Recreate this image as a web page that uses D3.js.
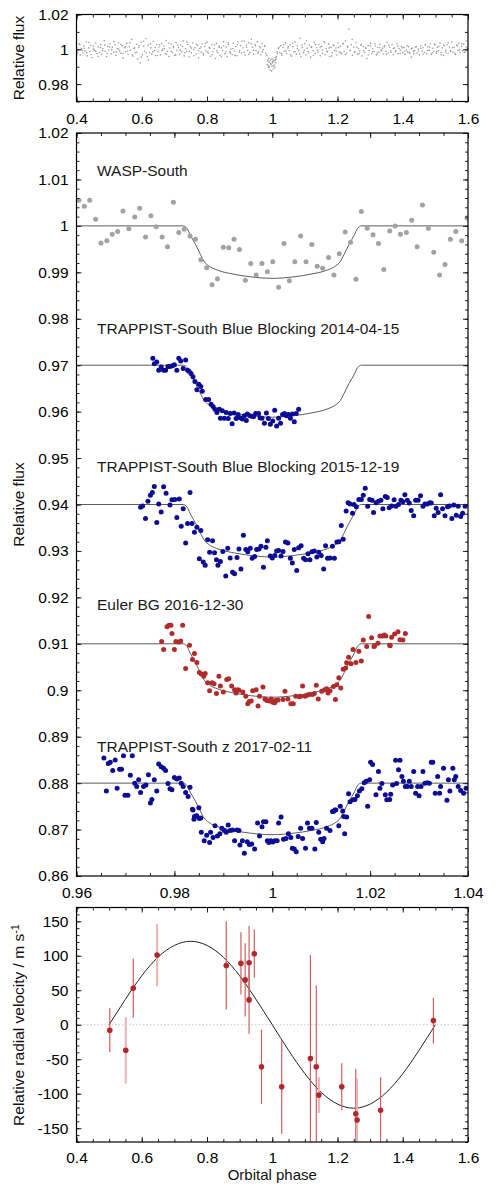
<!DOCTYPE html>
<html>
<head>
<meta charset="utf-8">
<script src="https://cdn.jsdelivr.net/npm/d3@7"></script>
<style>
  body { margin: 0; background: #fff; }
  svg { display: block; font-family: "Liberation Sans", Arial, Helvetica, sans-serif; }
</style>
</head>
<body>
<svg id="chart" width="496" height="1190"></svg>
<script>
// ---- data ----

// full WASP light curve folded on the orbital phase (top panel)
const survey = [
  [0.401,1.0012],[0.404,0.9985],[0.408,1.0031],[0.411,0.9968],[0.415,1.0004],[0.419,0.9979],[0.422,1.0019],[0.426,0.9991],[0.430,1.0043],[0.433,0.9962],
  [0.437,1.0008],[0.441,0.9987],[0.444,1.0023],[0.448,0.9953],[0.452,1.0001],[0.455,0.9994],[0.459,1.0036],[0.463,0.9976],[0.466,1.0014],[0.470,0.9982],
  [0.474,1.0027],[0.477,0.9971],[0.481,1.0005],[0.485,1.0049],[0.488,0.9989],[0.492,0.9958],[0.496,1.0017],[0.499,0.9996],[0.503,1.0032],[0.507,0.9974],
  [0.510,1.0011],[0.514,0.9983],[0.518,1.0026],[0.521,0.9966],[0.525,1.0003],[0.529,1.0038],[0.532,0.9992],[0.536,0.9978],[0.540,1.0021],[0.543,0.9949],
  [0.547,1.0009],[0.551,0.9986],[0.554,1.0034],[0.558,0.9970],[0.562,1.0015],[0.565,0.9995],[0.569,1.0057],[0.573,0.9961],[0.576,1.0006],[0.580,0.9980],
  [0.584,1.0029],[0.587,0.9944],[0.591,1.0012],[0.595,0.9922],[0.598,1.0041],[0.602,0.9968],[0.606,1.0018],[0.609,0.9990],[0.613,1.0062],[0.617,0.9957],
  [0.620,1.0024],[0.624,0.9981],[0.628,1.0008],[0.631,0.9972],[0.635,1.0045],[0.639,0.9993],[0.642,0.9964],[0.646,1.0027],[0.650,0.9986],[0.653,1.0013],
  [0.657,0.9969],[0.661,1.0033],[0.664,0.9998],[0.668,1.0019],[0.672,0.9976],[0.675,1.0051],[0.679,0.9988],[0.683,0.9959],[0.686,1.0007],[0.690,1.0030],
  [0.694,0.9982],[0.697,1.0016],[0.701,0.9965],[0.705,1.0039],[0.708,0.9994],[0.712,1.0010],[0.716,0.9971],[0.719,1.0025],[0.723,0.9985],[0.727,1.0047],
  [0.730,0.9962],[0.734,1.0003],[0.738,0.9989],[0.741,1.0028],[0.745,0.9956],[0.749,1.0014],[0.752,0.9979],[0.756,1.0036],[0.760,0.9997],[0.763,1.0009],
  [0.767,0.9973],[0.771,1.0022],[0.774,0.9951],[0.778,1.0005],[0.782,0.9984],[0.785,1.0031],[0.789,0.9968],[0.793,1.0017],[0.796,0.9992],[0.800,1.0040],
  [0.804,0.9977],[0.807,1.0011],[0.811,0.9960],[0.815,1.0026],[0.818,0.9987],[0.822,1.0004],[0.826,0.9947],[0.829,1.0034],[0.833,0.9981],[0.837,1.0018],
  [0.840,0.9966],[0.844,1.0008],[0.848,0.9993],[0.851,1.0044],[0.855,0.9975],[0.859,1.0013],[0.862,0.9958],[0.866,1.0027],[0.870,0.9985],[0.873,1.0002],
  [0.877,0.9970],[0.881,1.0035],[0.884,0.9990],[0.888,1.0016],[0.892,0.9963],[0.895,1.0042],[0.899,0.9983],[0.903,1.0021],[0.906,0.9978],[0.910,1.0009],
  [0.914,1.0048],[0.917,0.9967],[0.921,1.0024],[0.925,0.9994],[0.928,1.0037],[0.932,0.9980],[0.936,1.0058],[0.939,1.0012],[0.943,0.9972],[0.947,1.0029],
  [0.950,0.9991],[0.954,1.0044],[0.958,0.9985],[0.961,1.0016],[0.965,0.9969],[0.969,1.0033],[0.972,0.9998],[0.976,1.0021],[0.980,0.9977],[0.983,0.9965],
  [0.985,0.9912],[0.987,0.9938],[0.989,0.9895],[0.991,0.9926],[0.993,0.9881],[0.995,0.9918],[0.997,0.9944],[0.999,0.9903],[1.001,0.9929],[1.003,0.9887],
  [1.005,0.9935],[1.007,0.9910],[1.009,0.9952],[1.011,0.9921],[1.013,0.9958],[1.016,0.9974],[1.019,1.0004],[1.023,0.9982],[1.026,1.0021],[1.030,0.9966],
  [1.033,1.0012],[1.037,0.9989],[1.041,1.0037],[1.044,0.9976],[1.048,1.0008],[1.052,0.9993],[1.055,1.0026],[1.059,0.9961],[1.063,1.0015],[1.066,0.9984],
  [1.070,1.0041],[1.074,0.9972],[1.077,1.0019],[1.081,0.9995],[1.085,1.0063],[1.088,0.9958],[1.092,1.0010],[1.096,0.9981],[1.099,1.0033],[1.103,0.9969],
  [1.107,1.0006],[1.110,0.9987],[1.114,1.0024],[1.118,0.9955],[1.121,1.0014],[1.125,0.9992],[1.129,1.0038],[1.132,0.9975],[1.136,1.0009],[1.140,0.9983],
  [1.143,1.0028],[1.147,0.9963],[1.151,1.0017],[1.154,0.9996],[1.158,1.0045],[1.162,0.9970],[1.165,1.0003],[1.169,0.9986],[1.173,1.0031],[1.176,0.9959],
  [1.180,1.0012],[1.184,0.9980],[1.187,1.0025],[1.191,0.9993],[1.195,1.0007],[1.198,0.9967],[1.202,1.0036],[1.206,0.9984],[1.209,1.0018],[1.213,0.9974],
  [1.217,1.0030],[1.220,0.9989],[1.224,1.0047],[1.228,0.9977],[1.231,1.0011],[1.235,1.0115],[1.239,0.9994],[1.242,1.0027],[1.246,0.9966],[1.250,1.0013],
  [1.253,0.9985],[1.257,1.0039],[1.261,0.9971],[1.264,1.0005],[1.268,0.9990],[1.272,1.0024],[1.275,0.9962],[1.279,1.0016],[1.283,0.9982],[1.286,1.0008],
  [1.290,0.9947],[1.294,1.0021],[1.297,0.9993],[1.301,1.0034],[1.305,0.9976],[1.308,1.0003],[1.312,0.9987],[1.316,1.0019],[1.319,0.9968],[1.323,1.0010],
  [1.327,0.9984],[1.330,1.0029],[1.334,0.9995],[1.338,1.0006],[1.341,0.9973],[1.345,1.0022],[1.349,0.9989],[1.352,1.0041],[1.356,0.9979],[1.360,1.0013],
  [1.363,0.9991],[1.367,1.0026],[1.371,0.9969],[1.374,1.0008],[1.378,0.9986],[1.382,1.0032],[1.385,0.9975],[1.389,1.0004],[1.393,0.9993],[1.396,1.0017],
  [1.400,0.9981],[1.404,1.0011],[1.407,0.9972],[1.411,0.9996],[1.415,0.9985],[1.418,1.0014],[1.422,0.9977],[1.426,0.9955],[1.429,1.0007],[1.433,0.9988],
  [1.437,0.9993],[1.440,1.0012],[1.444,0.9979],[1.448,1.0002],[1.451,0.9968],[1.455,1.0020],[1.459,0.9990],[1.462,1.0009],[1.466,0.9983],[1.470,1.0027],
  [1.473,0.9975],[1.477,1.0015],[1.481,0.9994],[1.484,1.0032],[1.488,0.9970],[1.492,1.0006],[1.495,0.9987],[1.499,1.0023],[1.503,0.9978],[1.506,1.0011],
  [1.510,0.9992],[1.514,1.0036],[1.517,0.9981],[1.521,1.0008],[1.525,0.9965],[1.528,1.0019],[1.532,0.9995],[1.536,1.0027],[1.539,0.9976],[1.543,1.0013],
  [1.547,0.9988],[1.550,1.0042],[1.554,0.9983],[1.558,1.0009],[1.561,0.9970],[1.565,1.0025],[1.569,0.9994],[1.572,1.0034],[1.576,0.9980],[1.580,1.0016],
  [1.583,0.9991],[1.587,1.0029],[1.591,0.9985],[1.594,1.0048],[1.598,1.0003],
  [0.403,0.9974],[0.410,1.0027],[0.417,0.9993],[0.424,1.0006],[0.431,0.9981],[0.438,1.0039],[0.445,0.9970],[0.452,1.0019],[0.459,0.9988],[0.466,0.9959],
  [0.473,1.0010],[0.480,0.9992],[0.487,1.0024],[0.494,0.9977],[0.501,1.0013],[0.508,0.9998],[0.515,1.0044],[0.522,0.9985],[0.529,1.0002],[0.536,1.0028],
  [0.543,0.9976],[0.550,1.0015],[0.557,0.9990],[0.564,1.0037],[0.571,0.9969],[0.578,1.0008],[0.585,0.9983],[0.592,1.0022],[0.599,0.9955],[0.606,1.0046],
  [0.613,0.9979],[0.620,0.9938],[0.627,1.0031],[0.634,0.9986],[0.641,1.0012],[0.648,0.9964],[0.655,1.0026],[0.662,0.9991],[0.669,1.0004],[0.676,0.9973],
  [0.683,1.0035],[0.690,0.9989],[0.697,1.0009],[0.704,0.9968],[0.711,1.0023],[0.718,0.9995],[0.725,1.0016],[0.732,0.9980],[0.739,1.0041],[0.746,0.9987],
  [0.753,1.0007],[0.760,0.9963],[0.767,1.0029],[0.774,0.9993],[0.781,1.0014],[0.788,0.9976],[0.795,1.0033],[0.802,0.9984],[0.809,1.0006],[0.816,0.9969],
  [0.823,1.0025],[0.830,0.9991],[0.837,1.0010],[0.844,0.9957],[0.851,1.0019],[0.858,0.9986],[0.865,1.0038],[0.872,0.9978],[0.879,1.0003],[0.886,0.9965],
  [0.893,1.0027],[0.900,0.9992],[0.907,1.0046],[0.914,0.9983],[0.921,1.0012],[0.928,0.9971],[0.935,1.0031],[0.942,0.9994],[0.949,1.0020],[0.956,0.9977],
  [0.963,1.0008],[0.970,0.9985],[0.977,1.0018],[0.986,0.9931],[0.988,0.9906],[0.990,0.9948],[0.992,0.9899],[0.994,0.9935],[0.996,0.9913],[0.998,0.9876],
  [1.000,0.9921],[1.002,0.9941],[1.004,0.9904],[1.006,0.9927],[1.008,0.9896],[1.010,0.9939],[1.012,0.9944],[1.015,0.9985],[1.021,1.0011],[1.028,0.9975],
  [1.035,1.0028],[1.042,0.9990],[1.049,1.0016],[1.056,0.9968],[1.063,1.0035],[1.070,0.9986],[1.077,1.0005],[1.084,0.9973],[1.091,1.0024],[1.098,0.9994],
  [1.105,1.0049],[1.112,0.9979],[1.119,1.0011],[1.126,0.9966],[1.133,1.0027],[1.140,0.9995],[1.147,1.0013],[1.154,0.9977],[1.161,1.0036],[1.168,0.9988],
  [1.175,1.0008],[1.182,0.9962],[1.189,1.0021],[1.196,0.9990],[1.203,1.0010],[1.210,0.9981],[1.217,1.0033],[1.224,0.9970],[1.231,1.0018],[1.238,0.9993],
  [1.245,1.0056],[1.252,0.9984],[1.259,1.0012],[1.266,0.9975],[1.273,1.0029],[1.280,0.9991],[1.287,1.0006],[1.294,0.9967],[1.301,1.0019],[1.308,0.9986],
  [1.315,1.0032],[1.322,0.9978],[1.329,1.0009],[1.336,0.9992],[1.343,1.0014],[1.350,0.9972],[1.357,1.0025],[1.364,0.9983],[1.371,1.0005],[1.378,0.9994],
  [1.385,1.0018],[1.392,0.9976],[1.399,1.0008],[1.406,0.9989],[1.413,1.0021],[1.420,0.9982],[1.427,1.0003],[1.434,0.9975],[1.441,1.0016],[1.448,0.9990],
  [1.455,1.0006],[1.462,0.9971],[1.469,1.0024],[1.476,0.9993],[1.483,1.0012],[1.490,0.9979],[1.497,1.0030],[1.504,0.9988],[1.511,1.0017],[1.518,0.9969],
  [1.525,1.0025],[1.532,0.9984],[1.539,1.0039],[1.546,0.9992],[1.553,1.0010],[1.560,0.9977],[1.567,1.0021],[1.574,0.9995],[1.581,1.0032],[1.588,0.9981],[1.595,1.0013]
];

// binned WASP-South
const wasp = [
  [0.9605,1.0055],[0.9616,1.0042],[0.9627,1.0055],[0.9639,1.0014],[0.9650,0.9963],[0.9662,0.9968],[0.9673,0.9982],[0.9684,0.9988],[0.9695,1.0032],[0.9707,0.9994],
  [0.9719,1.0019],[0.9729,1.0038],[0.9741,0.9976],[0.9752,1.0022],[0.9763,0.9998],[0.9775,0.9976],[0.9786,0.9955],[0.9798,1.0051],[0.9809,0.9986],[0.9820,0.9993],
  [0.9832,0.9978],[0.9843,0.9971],[0.9854,0.9927],[0.9866,0.9910],[0.9877,0.9873],[0.9888,0.9886],[0.9900,0.9954],[0.9911,0.9953],[0.9922,0.9971],[0.9933,0.9949],
  [0.9945,0.9883],[0.9956,0.9919],[0.9967,0.9894],[0.9979,0.9919],[0.9990,0.9901],[1.0001,0.9923],[1.0013,0.9868],[1.0024,0.9962],[1.0035,0.9882],[1.0046,0.9923],
  [1.0058,0.9978],[1.0069,0.9923],[1.0081,0.9960],[1.0092,0.9913],[1.0103,0.9909],[1.0115,0.9932],[1.0126,0.9894],[1.0137,0.9940],[1.0149,0.9987],[1.0160,0.9965],
  [1.0171,0.9885],[1.0182,1.0031],[1.0194,0.9995],[1.0206,0.9981],[1.0217,0.9962],[1.0228,0.9906],[1.0240,0.9989],[1.0251,1.0000],[1.0262,0.9982],[1.0274,0.9986],
  [1.0285,1.0012],[1.0296,0.9955],[1.0307,1.0045],[1.0319,0.9995],[1.0330,0.9943],[1.0342,0.9894],[1.0353,0.9917],[1.0364,0.9971],[1.0375,0.9988],[1.0387,0.9968],
  [1.0398,1.0017]
];

// TRAPPIST-South Blue Blocking 2014-04-15 (offset -0.03)
const blue2014 = [
  [0.9756,0.9715],[0.9759,0.9703],[0.9764,0.9707],[0.9768,0.9689],[0.9773,0.9696],[0.9778,0.9689],[0.9782,0.9689],[0.9787,0.9697],[0.9791,0.9697],[0.9796,0.9699],
  [0.9800,0.9701],[0.9805,0.9689],[0.9809,0.9715],[0.9813,0.9709],[0.9818,0.9693],[0.9823,0.9711],[0.9827,0.9689],[0.9830,0.9687],[0.9834,0.9682],[0.9838,0.9675],
  [0.9842,0.9665],[0.9846,0.9647],[0.9850,0.9659],[0.9854,0.9654],[0.9857,0.9644],[0.9864,0.9626],[0.9870,0.9626],[0.9875,0.9616],[0.9879,0.9611],[0.9883,0.9605],
  [0.9887,0.9598],[0.9892,0.9605],[0.9894,0.9586],[0.9898,0.9602],[0.9902,0.9586],[0.9906,0.9598],[0.9910,0.9585],[0.9914,0.9596],[0.9918,0.9574],[0.9922,0.9597],
  [0.9926,0.9585],[0.9930,0.9594],[0.9934,0.9587],[0.9939,0.9584],[0.9943,0.9591],[0.9947,0.9581],[0.9949,0.9595],[0.9954,0.9591],[0.9958,0.9590],[0.9962,0.9589],
  [0.9966,0.9596],[0.9972,0.9596],[0.9975,0.9587],[0.9979,0.9586],[0.9984,0.9575],[0.9988,0.9597],[0.9992,0.9585],[0.9996,0.9573],[1.0001,0.9580],[1.0005,0.9603],
  [1.0009,0.9569],[1.0013,0.9586],[1.0017,0.9575],[1.0021,0.9594],[1.0025,0.9596],[1.0029,0.9591],[1.0033,0.9594],[1.0037,0.9586],[1.0041,0.9595],[1.0045,0.9578],
  [1.0049,0.9596],[1.0054,0.9605]
];

// TRAPPIST-South Blue Blocking 2015-12-19 (offset -0.06)
const blue2015 = [
  [0.9731,0.9394],[0.9735,0.9397],[0.9741,0.9370],[0.9746,0.9407],[0.9751,0.9420],[0.9755,0.9426],[0.9759,0.9439],[0.9764,0.9361],[0.9768,0.9401],[0.9773,0.9384],
  [0.9778,0.9438],[0.9783,0.9424],[0.9791,0.9399],[0.9795,0.9410],[0.9801,0.9411],[0.9805,0.9372],[0.9810,0.9412],[0.9814,0.9353],[0.9818,0.9391],[0.9823,0.9317],
  [0.9827,0.9359],[0.9832,0.9426],[0.9836,0.9359],[0.9841,0.9340],[0.9846,0.9351],[0.9851,0.9283],[0.9854,0.9344],[0.9859,0.9276],[0.9863,0.9269],[0.9868,0.9324],
  [0.9872,0.9297],[0.9878,0.9322],[0.9882,0.9296],[0.9886,0.9281],[0.9889,0.9269],[0.9894,0.9277],[0.9899,0.9299],[0.9905,0.9246],[0.9909,0.9306],[0.9914,0.9285],
  [0.9919,0.9254],[0.9923,0.9251],[0.9928,0.9286],[0.9932,0.9304],[0.9936,0.9261],[0.9941,0.9334],[0.9946,0.9303],[0.9950,0.9298],[0.9955,0.9306],[0.9959,0.9284],
  [0.9964,0.9288],[0.9968,0.9303],[0.9973,0.9304],[0.9977,0.9310],[0.9982,0.9265],[0.9987,0.9308],[0.9990,0.9322],[0.9996,0.9289],[1.0000,0.9285],[1.0005,0.9290],
  [1.0009,0.9300],[1.0013,0.9301],[1.0018,0.9289],[1.0022,0.9299],[1.0027,0.9319],[1.0032,0.9317],[1.0037,0.9284],[1.0041,0.9274],[1.0045,0.9303],[1.0050,0.9258],
  [1.0054,0.9307],[1.0059,0.9311],[1.0064,0.9284],[1.0068,0.9281],[1.0073,0.9294],[1.0077,0.9281],[1.0081,0.9298],[1.0086,0.9300],[1.0091,0.9287],[1.0095,0.9297],
  [1.0100,0.9290],[1.0105,0.9261],[1.0109,0.9311],[1.0113,0.9284],[1.0118,0.9285],[1.0123,0.9310],[1.0127,0.9284],[1.0132,0.9319],[1.0136,0.9320],[1.0141,0.9355],
  [1.0145,0.9325],[1.0151,0.9386],[1.0155,0.9404],[1.0159,0.9401],[1.0164,0.9381],[1.0167,0.9400],[1.0172,0.9395],[1.0177,0.9411],[1.0182,0.9411],[1.0186,0.9420],
  [1.0190,0.9435],[1.0195,0.9396],[1.0199,0.9411],[1.0204,0.9409],[1.0207,0.9383],[1.0212,0.9404],[1.0217,0.9407],[1.0222,0.9409],[1.0226,0.9391],[1.0231,0.9417],
  [1.0235,0.9415],[1.0239,0.9393],[1.0244,0.9397],[1.0249,0.9410],[1.0253,0.9396],[1.0258,0.9400],[1.0263,0.9409],[1.0267,0.9406],[1.0271,0.9421],[1.0276,0.9409],
  [1.0280,0.9403],[1.0284,0.9387],[1.0289,0.9376],[1.0293,0.9409],[1.0298,0.9409],[1.0303,0.9419],[1.0308,0.9396],[1.0312,0.9401],[1.0317,0.9401],[1.0322,0.9404],
  [1.0325,0.9403],[1.0331,0.9376],[1.0335,0.9392],[1.0339,0.9383],[1.0344,0.9421],[1.0348,0.9391],[1.0353,0.9376],[1.0358,0.9395],[1.0362,0.9397],[1.0367,0.9370],
  [1.0371,0.9399],[1.0376,0.9377],[1.0380,0.9396],[1.0385,0.9374],[1.0389,0.9381],[1.0394,0.9396]
];

// Euler BG 2016-12-30 (offset -0.09)
const euler2016 = [
  [0.9774,0.9105],[0.9778,0.9088],[0.9785,0.9137],[0.9789,0.9140],[0.9793,0.9140],[0.9795,0.9122],[0.9800,0.9088],[0.9803,0.9105],[0.9809,0.9104],[0.9813,0.9106],
  [0.9817,0.9140],[0.9823,0.9047],[0.9831,0.9097],[0.9837,0.9066],[0.9841,0.9079],[0.9846,0.9060],[0.9851,0.9038],[0.9855,0.9035],[0.9860,0.9030],[0.9863,0.9036],
  [0.9868,0.9016],[0.9872,0.8999],[0.9877,0.9016],[0.9881,0.9014],[0.9886,0.8993],[0.9891,0.9030],[0.9894,0.9009],[0.9900,0.8996],[0.9907,0.9023],[0.9911,0.9025],
  [0.9917,0.9009],[0.9923,0.9001],[0.9926,0.8994],[0.9929,0.9001],[0.9932,0.9000],[0.9940,0.8996],[0.9946,0.8987],[0.9950,0.8971],[0.9953,0.8976],[0.9957,0.8977],
  [0.9960,0.8999],[0.9967,0.9001],[0.9971,0.8966],[0.9974,0.8987],[0.9981,0.9007],[0.9985,0.8981],[0.9989,0.8978],[0.9994,0.8977],[0.9998,0.8981],[1.0001,0.8974],
  [1.0005,0.8973],[1.0007,0.8978],[1.0012,0.8979],[1.0022,0.8980],[1.0026,0.8998],[1.0032,0.8981],[1.0038,0.8971],[1.0043,0.8971],[1.0048,0.8987],[1.0055,0.8986],
  [1.0058,0.8987],[1.0062,0.9009],[1.0067,0.8987],[1.0071,0.8989],[1.0075,0.8991],[1.0082,0.8991],[1.0086,0.8993],[1.0090,0.9011],[1.0094,0.8981],[1.0101,0.8998],
  [1.0107,0.9001],[1.0111,0.9003],[1.0114,0.8994],[1.0118,0.8999],[1.0125,0.9008],[1.0129,0.8980],[1.0132,0.9012],[1.0136,0.9027],[1.0140,0.9005],[1.0145,0.9045],
  [1.0150,0.9048],[1.0152,0.9059],[1.0156,0.9071],[1.0161,0.9057],[1.0165,0.9088],[1.0171,0.9060],[1.0177,0.9084],[1.0182,0.9063],[1.0186,0.9108],[1.0193,0.9094],
  [1.0197,0.9159],[1.0203,0.9113],[1.0208,0.9094],[1.0209,0.9096],[1.0216,0.9101],[1.0220,0.9117],[1.0225,0.9117],[1.0229,0.9119],[1.0232,0.9117],[1.0240,0.9097],
  [1.0241,0.9096],[1.0244,0.9114],[1.0250,0.9121],[1.0257,0.9126],[1.0261,0.9109],[1.0267,0.9108],[1.0272,0.9122]
];

// TRAPPIST-South z 2017-02-11 (offset -0.12)
const z2017 = [
  [0.9656,0.8854],[0.9661,0.8783],[0.9665,0.8842],[0.9669,0.8845],[0.9674,0.8827],[0.9679,0.8850],[0.9683,0.8789],[0.9688,0.8830],[0.9692,0.8830],[0.9696,0.8859],
  [0.9699,0.8774],[0.9705,0.8774],[0.9710,0.8817],[0.9714,0.8859],[0.9719,0.8800],[0.9723,0.8793],[0.9727,0.8807],[0.9731,0.8780],[0.9737,0.8793],[0.9742,0.8796],
  [0.9747,0.8818],[0.9751,0.8757],[0.9754,0.8765],[0.9759,0.8807],[0.9764,0.8783],[0.9768,0.8841],[0.9773,0.8835],[0.9778,0.8832],[0.9782,0.8827],[0.9787,0.8799],
  [0.9791,0.8788],[0.9795,0.8786],[0.9800,0.8812],[0.9805,0.8809],[0.9810,0.8811],[0.9814,0.8800],[0.9818,0.8793],[0.9823,0.8780],[0.9828,0.8771],[0.9832,0.8791],
  [0.9837,0.8744],[0.9838,0.8742],[0.9840,0.8722],[0.9841,0.8728],[0.9845,0.8730],[0.9846,0.8729],[0.9850,0.8747],[0.9851,0.8724],[0.9854,0.8725],[0.9855,0.8694],
  [0.9861,0.8676],[0.9866,0.8688],[0.9872,0.8672],[0.9874,0.8694],[0.9879,0.8683],[0.9883,0.8708],[0.9888,0.8686],[0.9893,0.8691],[0.9897,0.8703],[0.9902,0.8698],
  [0.9906,0.8694],[0.9910,0.8710],[0.9914,0.8698],[0.9919,0.8699],[0.9923,0.8676],[0.9928,0.8699],[0.9932,0.8698],[0.9934,0.8667],[0.9939,0.8676],[0.9943,0.8649],
  [0.9949,0.8674],[0.9953,0.8668],[0.9958,0.8669],[0.9964,0.8658],[0.9970,0.8714],[0.9974,0.8686],[0.9979,0.8706],[0.9982,0.8717],[0.9987,0.8717],[0.9990,0.8676],
  [0.9993,0.8672],[0.9997,0.8676],[1.0001,0.8673],[1.0005,0.8676],[1.0010,0.8676],[1.0013,0.8714],[1.0018,0.8727],[1.0023,0.8679],[1.0028,0.8681],[1.0033,0.8691],
  [1.0038,0.8683],[1.0041,0.8660],[1.0045,0.8658],[1.0049,0.8652],[1.0053,0.8685],[1.0058,0.8703],[1.0062,0.8681],[1.0068,0.8660],[1.0072,0.8714],[1.0076,0.8703],
  [1.0081,0.8703],[1.0087,0.8658],[1.0090,0.8715],[1.0095,0.8694],[1.0099,0.8679],[1.0103,0.8674],[1.0106,0.8681],[1.0111,0.8703],[1.0118,0.8698],[1.0123,0.8739],
  [1.0125,0.8739],[1.0128,0.8742],[1.0130,0.8742],[1.0136,0.8708],[1.0139,0.8750],[1.0144,0.8740],[1.0146,0.8728],[1.0148,0.8691],[1.0152,0.8727],[1.0156,0.8777],
  [1.0159,0.8760],[1.0165,0.8764],[1.0169,0.8765],[1.0174,0.8773],[1.0178,0.8783],[1.0183,0.8788],[1.0188,0.8801],[1.0192,0.8804],[1.0195,0.8750],[1.0199,0.8807],
  [1.0201,0.8845],[1.0205,0.8840],[1.0212,0.8775],[1.0217,0.8825],[1.0220,0.8789],[1.0224,0.8799],[1.0231,0.8775],[1.0234,0.8764],[1.0240,0.8765],[1.0242,0.8776],
  [1.0246,0.8796],[1.0252,0.8849],[1.0254,0.8799],[1.0258,0.8829],[1.0261,0.8849],[1.0265,0.8814],[1.0268,0.8804],[1.0272,0.8793],[1.0276,0.8793],[1.0280,0.8804],
  [1.0284,0.8793],[1.0289,0.8825],[1.0293,0.8778],[1.0297,0.8793],[1.0300,0.8773],[1.0304,0.8793],[1.0308,0.8825],[1.0312,0.8800],[1.0317,0.8801],[1.0321,0.8800],
  [1.0325,0.8845],[1.0328,0.8845],[1.0333,0.8778],[1.0338,0.8814],[1.0342,0.8778],[1.0344,0.8793],[1.0350,0.8832],[1.0357,0.8763],[1.0360,0.8807],[1.0363,0.8783],
  [1.0369,0.8832],[1.0372,0.8807],[1.0375,0.8814],[1.0380,0.8793],[1.0385,0.8784],[1.0391,0.8778],[1.0396,0.8789]
];

const transitSets = [wasp, blue2014, blue2015, euler2016, z2017];
const setNames = [
  "WASP-South",
  "TRAPPIST-South Blue Blocking 2014-04-15",
  "TRAPPIST-South Blue Blocking 2015-12-19",
  "Euler BG 2016-12-30",
  "TRAPPIST-South z 2017-02-11"
];
const setBaseline = [1.0, 0.97, 0.94, 0.91, 0.88];
const setDepth = [0.0113, 0.0112, 0.0113, 0.0115, 0.0111];

// transit model (fraction of full depth)
const modelPhase = [0.96, 0.9818, 0.9826, 0.9832, 0.9843, 0.9853, 0.9861, 0.9870, 0.9887, 0.9921, 0.9955, 1.0,
                    1.0045, 1.0079, 1.0113, 1.0130, 1.0139, 1.0147, 1.0157, 1.0168, 1.0174, 1.0182, 1.04];
const modelShape = [0, 0, 0.05, 0.17, 0.35, 0.54, 0.68, 0.76, 0.84, 0.92, 0.97, 1,
                    0.97, 0.92, 0.84, 0.76, 0.68, 0.54, 0.35, 0.17, 0.05, 0, 0];

// radial velocities
const rvPhase = [0.502, 0.551, 0.574, 0.647, 0.859, 0.904, 0.917, 0.929, 0.929, 0.945, 0.967,
                 1.029, 1.117, 1.135, 1.143, 1.213, 1.256, 1.260, 1.332, 1.494];
const rvValue = [-8, -37, 53, 101, 86, 89, 65, 90, 36, 103, -61, -90, -49, -61, -102, -90, -129, -138, -124, 6];
const rvError = [32, 48, 43, 45, 64, 45, 53, 53, 49, 35, 54, 68, 150, 118, 26, 34, 65, 60, 48, 33];
const rvPale = [0, 1, 0, 1, 0, 0, 0, 0, 0, 0, 0, 0, 0, 0, 1, 0, 0, 1, 0, 0];

// orbit fit
const orbitPhase = [0.50, 0.55, 0.60, 0.65, 0.70, 0.75, 0.80, 0.85, 0.90, 0.95, 1.00,
                    1.05, 1.10, 1.15, 1.20, 1.25, 1.30, 1.35, 1.40, 1.45, 1.50];
const orbitRv = [0, 37, 71, 98, 115, 121, 115, 98, 71, 37, 0, -37, -71, -98, -115, -121, -115, -98, -71, -37, 0];

// tick labels
const wideXTicks = [0.4, 0.6, 0.8, 1, 1.2, 1.4, 1.6];
const wideYTicks = [0.98, 1, 1.02];
const zoomXTicks = [0.96, 0.98, 1, 1.02, 1.04];
const zoomYTicks = [0.86, 0.87, 0.88, 0.89, 0.9, 0.91, 0.92, 0.93, 0.94, 0.95, 0.96, 0.97, 0.98, 0.99, 1, 1.01, 1.02];
const rvYTicks = [-150, -100, -50, 0, 50, 100, 150];

// ---- drawing ----
const svg = d3.select("#chart");
const left = 76.5, plotW = 391.5;
const fmt = d => String(+d.toFixed(4));
const steps = (a, b, s) => d3.range(Math.round((b - a) / s) + 1).map(i => +(a + i * s).toFixed(6));

function panel(id, top, h) {
  svg.append("clipPath").attr("id", id).append("rect").attr("width", plotW).attr("height", h);
  const g = svg.append("g").attr("transform", "translate(" + left + "," + top + ")");
  const plot = g.append("g").attr("clip-path", "url(#" + id + ")");
  return { g, plot };
}

function axes(g, x, y, h, t, xPad) {
  const specs = [
    ["bottom", t.xMajor, 5, true], ["bottom", t.xMinor, 3],
    ["top", t.xMajor, 5], ["top", t.xMinor, 3],
    ["left", t.yMajor, 5, true], ["left", t.yMinor, 3],
    ["right", t.yMajor, 5], ["right", t.yMinor, 3]
  ];
  const makers = { bottom: d3.axisBottom, top: d3.axisTop, left: d3.axisLeft, right: d3.axisRight };
  specs.forEach(([side, vals, len, lab]) => {
    const sc = side === "bottom" || side === "top" ? x : y;
    const ax = makers[side](sc).tickValues(vals).tickSize(-len)
      .tickPadding(side === "left" ? 8 : (xPad || 11))
      .tickFormat(lab ? fmt : "");
    const a = g.append("g")
      .attr("transform", side === "bottom" ? "translate(0," + h + ")" : side === "right" ? "translate(" + plotW + ",0)" : null)
      .call(ax);
    a.select(".domain").remove();
    a.attr("font-size", 15.5).attr("font-family", null);
    a.selectAll("line").attr("stroke", "#222");
  });
  g.append("rect").attr("width", plotW).attr("height", h)
    .attr("fill", "none").attr("stroke", "#000").attr("stroke-width", 1.2);
}

function yTitle(cx, cy, text) {
  return svg.append("text")
    .attr("transform", "translate(" + cx + "," + cy + ") rotate(-90)")
    .attr("text-anchor", "middle").attr("font-size", 15.5).attr("fill", "#111")
    .text(text);
}

// top panel: whole orbit
{
  const h = 87;
  const { g, plot } = panel("clipWide", 14.5, h);
  const x = d3.scaleLinear().domain([0.4, 1.6]).range([0, plotW]);
  const y = d3.scaleLinear().domain([0.97, 1.02]).range([h, 0]);
  plot.selectAll("circle").data(survey).join("circle")
    .attr("cx", d => x(d[0])).attr("cy", d => y(d[1])).attr("r", 0.8)
    .attr("fill", "#999");
  axes(g, x, y, h, { xMajor: wideXTicks, xMinor: steps(0.4, 1.6, 0.05), yMajor: wideYTicks, yMinor: steps(0.97, 1.02, 0.01) });
  yTitle(24, 58, "Relative flux");
}

// middle panel: transits
{
  const h = 743;
  const { g, plot } = panel("clipTransit", 133, h);
  const x = d3.scaleLinear().domain([0.96, 1.04]).range([0, plotW]);
  const y = d3.scaleLinear().domain([0.86, 1.02]).range([h, 0]);
  const colors = ["#a2a2a2", "#0c0c95", "#0c0c95", "#b22b2b", "#0c0c95"];
  const labelFlux = [1.0108, 0.9767, 0.9469, 0.9172, 0.8868];

  transitSets.forEach((set, i) => {
    const line = d3.line()
      .x(d => x(d[0])).y(d => y(setBaseline[i] - setDepth[i] * d[1]))
      .curve(d3.curveMonotoneX);
    plot.append("path").datum(d3.zip(modelPhase, modelShape))
      .attr("d", line).attr("fill", "none").attr("stroke", "#4a4a4a").attr("stroke-width", 0.9);
    plot.append("g").selectAll("circle").data(set).join("circle")
      .attr("cx", d => x(d[0])).attr("cy", d => y(d[1])).attr("r", 2.5)
      .attr("fill", colors[i]);
    g.append("text").attr("x", 20.5).attr("y", y(labelFlux[i]))
      .attr("font-size", 15.5).attr("fill", "#1a1a1a").text(setNames[i]);
  });

  axes(g, x, y, h, { xMajor: zoomXTicks, xMinor: steps(0.96, 1.04, 0.005), yMajor: zoomYTicks, yMinor: steps(0.86, 1.02, 0.002) });
  yTitle(24, 504.5, "Relative flux");
}

// bottom panel: radial velocities
{
  const h = 234.5;
  const { g, plot } = panel("clipRv", 907.5, h);
  const x = d3.scaleLinear().domain([0.4, 1.6]).range([0, plotW]);
  const y = d3.scaleLinear().domain([-170, 170]).range([h, 0]);
  const rv = rvPhase.map((p, i) => ({ p, v: rvValue[i], e: rvError[i], pale: rvPale[i] }));

  plot.append("line").attr("x1", 0).attr("x2", plotW).attr("y1", y(0)).attr("y2", y(0))
    .attr("stroke", "#c4c4c4").attr("stroke-width", 1).attr("stroke-dasharray", "1.5,2");

  plot.append("path").datum(d3.zip(orbitPhase, orbitRv))
    .attr("d", d3.line().x(d => x(d[0])).y(d => y(d[1])).curve(d3.curveNatural))
    .attr("fill", "none").attr("stroke", "#222").attr("stroke-width", 1);

  plot.append("g").selectAll("line").data(rv).join("line")
    .attr("x1", d => x(d.p)).attr("x2", d => x(d.p))
    .attr("y1", d => y(d.v - d.e)).attr("y2", d => y(d.v + d.e))
    .attr("stroke", d => d.pale ? "#ebb2b2" : "#d15e5e")
    .attr("stroke-width", d => d.pale ? 2 : 1.2);

  plot.append("g").selectAll("circle").data(rv).join("circle")
    .attr("cx", d => x(d.p)).attr("cy", d => y(d.v)).attr("r", 2.8)
    .attr("fill", "#b3262a");

  axes(g, x, y, h, { xMajor: wideXTicks, xMinor: steps(0.4, 1.6, 0.05), yMajor: rvYTicks, yMinor: steps(-170, 170, 10) }, 10);

  const t = yTitle(24, 1025, "Relative radial velocity / m s");
  t.append("tspan").attr("dy", "-0.45em").attr("font-size", 11).text("-1");

  svg.append("text").attr("x", left + plotW / 2).attr("y", 1179.5)
    .attr("text-anchor", "middle").attr("font-size", 15).attr("fill", "#111")
    .text("Orbital phase");
}
</script>
</body>
</html>
